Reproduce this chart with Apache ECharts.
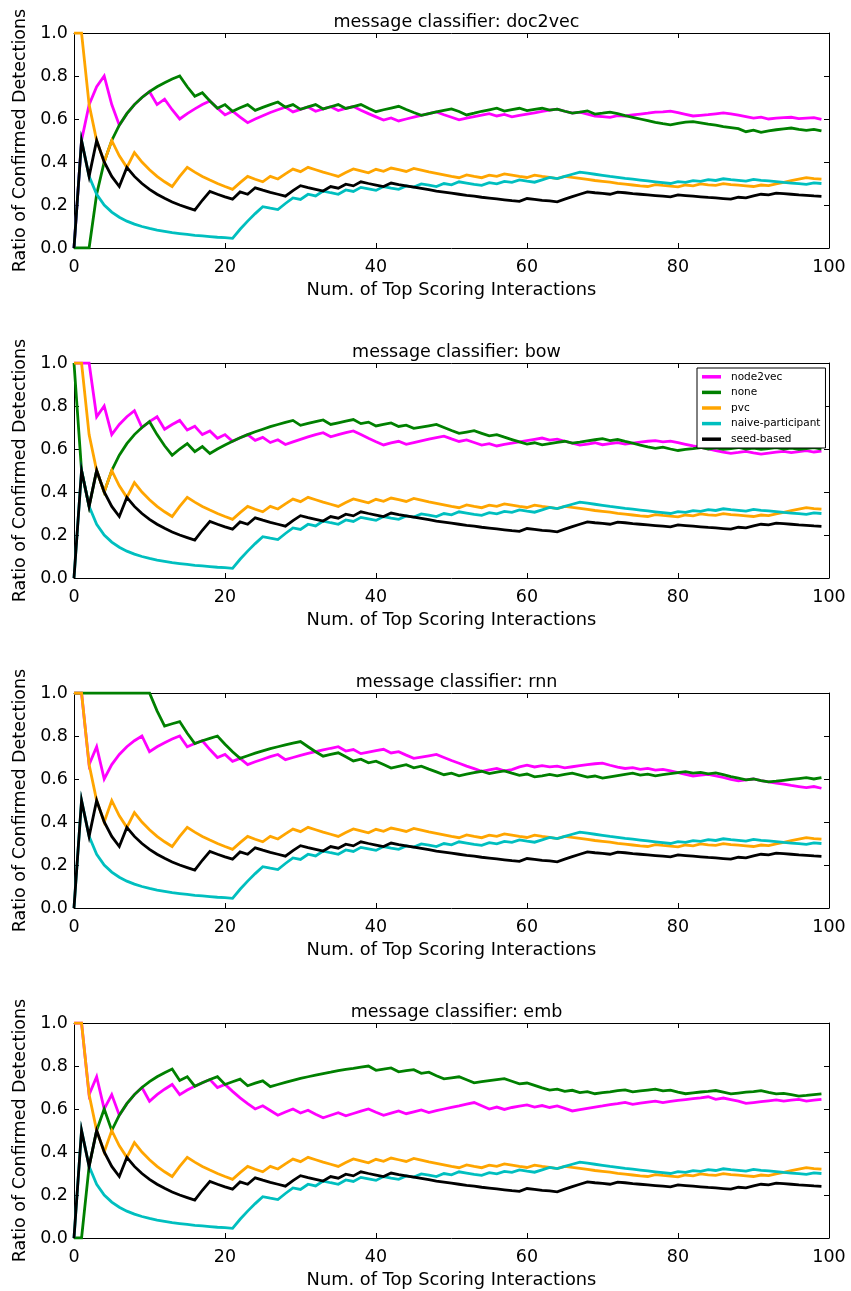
<!DOCTYPE html>
<html><head><meta charset="utf-8">
<script src="https://cdn.jsdelivr.net/npm/echarts@6/dist/echarts.min.js"></script>
<style>html,body{margin:0;padding:0;background:#fff}#c{width:851px;height:1291px}</style>
</head><body><div id="c"></div>
<script>
// ---------- data ----------
const panelTitles = ['message classifier: doc2vec','message classifier: bow','message classifier: rnn','message classifier: emb'];
const seriesNames = ['node2vec','none','pvc','naive-participant','seed-based'];
const xTickValues = [0,20,40,60,80,100];
const yTickValues = [0.0,0.2,0.4,0.6,0.8,1.0];

// shared by all four panels
const pvc = [1,1,.667,.5,.4,.5,.429,.375,.444,.4,
 .364,.333,.308,.286,.333,.375,.353,.333,.316,.3,
 .286,.273,.304,.333,.32,.308,.333,.321,.345,.367,
 .355,.375,.364,.353,.343,.333,.351,.368,.359,.35,
 .366,.357,.372,.364,.356,.37,.362,.354,.347,.34,
 .333,.327,.34,.333,.327,.339,.333,.345,.339,.333,
 .328,.339,.333,.328,.323,.333,.328,.324,.319,.314,
 .31,.306,.301,.297,.293,.289,.286,.295,.291,.288,
 .284,.293,.289,.298,.294,.291,.299,.295,.292,.289,
 .286,.293,.29,.298,.305,.313,.32,.327,.323,.32];
const naiveParticipant = [0,.5,.333,.25,.2,.167,.143,.125,.111,.1,
 .091,.083,.077,.071,.067,.063,.059,.056,.053,.05,
 .048,.045,.087,.125,.16,.192,.185,.179,.207,.233,
 .226,.25,.242,.265,.257,.25,.27,.263,.282,.275,
 .268,.286,.279,.273,.289,.283,.298,.292,.286,.3,
 .294,.308,.302,.296,.291,.304,.298,.31,.305,.317,
 .311,.306,.317,.328,.323,.333,.343,.353,.348,.343,
 .338,.333,.329,.324,.32,.316,.312,.308,.304,.3,
 .309,.305,.313,.31,.318,.314,.322,.318,.315,.311,
 .319,.315,.312,.309,.305,.302,.299,.296,.303,.3];
const seedBased = [0,.5,.333,.5,.4,.333,.286,.375,.333,.3,
 .273,.25,.231,.214,.2,.188,.176,.222,.263,.25,
 .238,.227,.261,.25,.28,.269,.259,.25,.241,.267,
 .29,.281,.273,.265,.286,.278,.297,.289,.308,.3,
 .293,.286,.302,.295,.289,.283,.277,.271,.265,.26,
 .255,.25,.245,.241,.236,.232,.228,.224,.22,.217,
 .23,.226,.222,.219,.215,.227,.239,.25,.261,.257,
 .254,.25,.26,.257,.253,.25,.247,.244,.241,.238,
 .247,.244,.241,.238,.235,.233,.23,.227,.236,.233,
 .242,.25,.247,.255,.253,.25,.247,.245,.242,.24];

// doc2vec
const node2vecDoc2vec = [0,.5,.667,.75,.8,.667,.571,.625,.667,.7,
 .727,.667,.692,.643,.6,.625,.647,.667,.684,.65,
 .619,.636,.609,.583,.6,.615,.63,.643,.655,.633,
 .645,.656,.636,.647,.657,.639,.649,.658,.641,.625,
 .61,.595,.605,.591,.6,.609,.617,.625,.633,.62,
 .608,.596,.604,.611,.618,.625,.614,.621,.61,.617,
 .623,.629,.635,.641,.646,.636,.627,.632,.623,.614,
 .611,.608,.616,.614,.619,.623,.627,.632,.633,.637,
 .63,.622,.614,.617,.62,.624,.628,.624,.618,.611,
 .604,.609,.6,.604,.606,.608,.602,.604,.606,.598];
const noneDoc2vec = [0,0,0,.25,.4,.5,.571,.625,.667,.7,
 .727,.75,.769,.786,.8,.75,.706,.722,.684,.65,
 .667,.636,.652,.667,.64,.654,.667,.679,.655,.667,
 .645,.656,.667,.647,.657,.667,.649,.658,.667,.65,
 .634,.643,.651,.659,.644,.63,.617,.625,.633,.64,
 .647,.635,.619,.627,.636,.643,.65,.637,.644,.65,
 .639,.645,.65,.641,.646,.636,.627,.632,.638,.623,
 .627,.632,.625,.616,.608,.6,.592,.584,.578,.573,
 .58,.585,.588,.582,.576,.571,.565,.56,.555,.541,
 .548,.538,.545,.55,.554,.558,.552,.547,.552,.545];
// bow
const node2vecBow = [1,1,1,.75,.8,.667,.714,.75,.778,.7,
 .727,.75,.692,.714,.733,.688,.706,.667,.684,.65,
 .667,.636,.652,.667,.64,.654,.63,.643,.621,.633,
 .645,.656,.667,.676,.657,.667,.676,.684,.667,.65,
 .634,.619,.628,.636,.622,.63,.638,.646,.653,.66,
 .647,.635,.642,.63,.618,.625,.614,.621,.627,.633,
 .639,.645,.651,.641,.646,.636,.627,.618,.623,.629,
 .62,.625,.63,.623,.627,.632,.636,.639,.633,.637,
 .63,.622,.614,.607,.6,.593,.586,.58,.584,.589,
 .582,.576,.581,.585,.589,.583,.588,.592,.586,.59];
const noneBow = [1,.5,.333,.5,.4,.5,.571,.625,.667,.7,
 .727,.667,.615,.571,.6,.625,.588,.611,.579,.6,
 .619,.636,.652,.667,.68,.692,.704,.714,.724,.733,
 .71,.719,.727,.735,.714,.722,.73,.737,.718,.725,
 .707,.714,.721,.705,.711,.696,.702,.708,.714,.7,
 .686,.673,.679,.685,.673,.661,.667,.655,.644,.633,
 .623,.629,.619,.625,.631,.636,.627,.632,.638,.643,
 .648,.639,.644,.635,.627,.618,.61,.603,.609,.6,
 .593,.598,.602,.607,.6,.605,.598,.602,.607,.6,
 .604,.598,.602,.606,.6,.604,.598,.602,.606,.6];
// rnn
const node2vecRnn = [1,1,.667,.75,.6,.667,.714,.75,.778,.8,
 .727,.75,.769,.786,.8,.75,.765,.778,.737,.7,
 .714,.682,.696,.667,.68,.692,.704,.714,.69,.7,
 .71,.719,.727,.735,.743,.75,.73,.737,.718,.725,
 .732,.738,.721,.727,.711,.696,.702,.708,.714,.7,
 .686,.673,.66,.648,.636,.643,.649,.638,.644,.656,
 .664,.656,.662,.656,.66,.652,.657,.662,.667,.671,
 .674,.664,.655,.649,.653,.645,.649,.641,.645,.638,
 .63,.622,.614,.618,.622,.614,.607,.598,.591,.596,
 .6,.593,.587,.581,.576,.57,.565,.56,.565,.557];
const noneRnn = [1,1,1,1,1,1,1,1,1,1,
 1,.917,.846,.857,.867,.813,.765,.778,.789,.8,
 .762,.727,.696,.708,.72,.731,.741,.75,.759,.767,
 .774,.75,.727,.706,.714,.722,.703,.684,.692,.675,
 .683,.667,.651,.659,.667,.652,.66,.646,.633,.62,
 .627,.615,.623,.63,.636,.625,.632,.638,.627,.617,
 .623,.61,.615,.621,.615,.621,.627,.618,.609,.614,
 .604,.61,.616,.622,.627,.618,.623,.615,.62,.625,
 .63,.634,.627,.631,.624,.628,.62,.611,.604,.596,
 .6,.593,.587,.59,.594,.598,.602,.606,.6,.606];
// emb
const node2vecEmb = [1,1,.667,.75,.6,.667,.571,.625,.667,.7,
 .636,.667,.692,.714,.667,.688,.706,.722,.737,.7,
 .714,.682,.652,.625,.6,.615,.593,.571,.586,.6,
 .581,.594,.576,.559,.571,.583,.568,.579,.59,.6,
 .585,.571,.581,.591,.578,.587,.596,.583,.592,.6,
 .608,.615,.623,.63,.615,.6,.609,.598,.607,.613,
 .619,.609,.616,.607,.614,.603,.591,.597,.603,.609,
 .614,.62,.625,.631,.622,.627,.632,.637,.63,.635,
 .64,.644,.648,.652,.657,.645,.651,.644,.637,.626,
 .63,.634,.638,.642,.637,.641,.645,.637,.641,.645];
const noneEmb = [0,0,.333,.5,.6,.5,.571,.625,.667,.7,
 .727,.75,.769,.786,.733,.75,.706,.722,.737,.75,
 .714,.727,.739,.708,.72,.731,.704,.714,.724,.733,
 .742,.75,.758,.765,.771,.778,.784,.789,.795,.8,
 .78,.786,.791,.773,.778,.783,.766,.771,.755,.74,
 .745,.75,.736,.722,.727,.732,.737,.741,.729,.717,
 .721,.71,.698,.688,.692,.682,.687,.676,.681,.671,
 .676,.68,.685,.689,.68,.684,.688,.692,.684,.688,
 .679,.671,.675,.679,.682,.686,.678,.67,.674,.678,
 .681,.685,.677,.67,.673,.667,.66,.663,.667,.67];

const node2vecByPanel = [node2vecDoc2vec, node2vecBow, node2vecRnn, node2vecEmb];
const noneByPanel = [noneDoc2vec, noneBow, noneRnn, noneEmb];

// ---------- layout / style ----------
const FONT = 'DejaVu Sans';
const COLORS = {'node2vec':'#ff00ff','none':'#008000','pvc':'#ffa500','naive-participant':'#00bfbf','seed-based':'#000000'};
const PL = 74, PW = 755, PT0 = 33, PH = 215, STEP = 330, FS = 17.5;

const grids = [], xAxes = [], yAxes = [], series = [], titles = [];
for (let k = 0; k < 4; k++) {
  const top = PT0 + STEP * k;
  grids.push({left: PL, top: top, width: PW, height: PH, outerBoundsMode: 'none', containLabel: false});
  titles.push({text: panelTitles[k], left: PL + PW / 2, top: top - 25, textAlign: 'center',
    textStyle: {fontFamily: FONT, fontSize: FS, fontWeight: 'normal', color: '#000'}});
  const line = {show: true, onZero: false, lineStyle: {color: '#000', width: 1}};
  const tick = {show: true, inside: true, length: 5, lineStyle: {color: '#000', width: 1}};
  xAxes.push({gridIndex: k, type: 'value', position: 'bottom', min: 0, max: 100, interval: 20,
    axisLine: line, axisTick: tick, splitLine: {show: false},
    axisLabel: {fontFamily: FONT, fontSize: FS, color: '#000', margin: 10, showMinLabel: true, showMaxLabel: true},
    name: 'Num. of Top Scoring Interactions', nameLocation: 'middle', nameGap: 33,
    nameTextStyle: {fontFamily: FONT, fontSize: 17.8, color: '#000'}});
  xAxes.push({gridIndex: k, type: 'value', position: 'top', min: 0, max: 100, interval: 20,
    axisLine: line, axisTick: tick, splitLine: {show: false}, axisLabel: {show: false}});
  yAxes.push({gridIndex: k, type: 'value', position: 'left', min: 0, max: 1, interval: 0.2,
    axisLine: line, axisTick: tick, splitLine: {show: false},
    axisLabel: {fontFamily: FONT, fontSize: FS, color: '#000', margin: 6, formatter: v => v.toFixed(1)},
    name: 'Ratio of Confirmed Detections', nameLocation: 'middle', nameGap: 45,
    nameTextStyle: {fontFamily: FONT, fontSize: FS, color: '#000'}});
  yAxes.push({gridIndex: k, type: 'value', position: 'right', min: 0, max: 1, interval: 0.2,
    axisLine: line, axisTick: tick, splitLine: {show: false}, axisLabel: {show: false}});

  const panelData = [node2vecByPanel[k], noneByPanel[k], pvc, naiveParticipant, seedBased];
  panelData.forEach((vals, s) => {
    const name = seriesNames[s];
    series.push({
      name: name, type: 'line', xAxisIndex: 2 * k, yAxisIndex: 2 * k,
      data: vals.map((v, i) => [i, v]),
      symbol: 'none', showSymbol: false, clip: true, color: COLORS[name],
      lineStyle: {color: COLORS[name], width: 2.8, join: 'miter'},
      emphasis: {disabled: true}, silent: true, z: 2
    });
  });
}

const chart = echarts.init(document.getElementById('c'), null, {renderer: 'canvas'});
chart.setOption({
  animation: false,
  backgroundColor: '#fff',
  title: titles,
  grid: grids,
  xAxis: xAxes,
  yAxis: yAxes,
  legend: {
    data: seriesNames, left: 697, top: 368, orient: 'vertical',
    icon: 'rect', itemWidth: 19, itemHeight: 3.5, itemGap: 0,
    padding: [1, 5, 1, 5], borderColor: '#000', borderWidth: 1, borderRadius: 0,
    backgroundColor: '#fff', selectedMode: false, z: 10,
    textStyle: {fontFamily: FONT, fontSize: 10.5, lineHeight: 15.6, color: '#000', padding: [0, 0, 0, 5]}
  },
  series: series
});
</script></body></html>
